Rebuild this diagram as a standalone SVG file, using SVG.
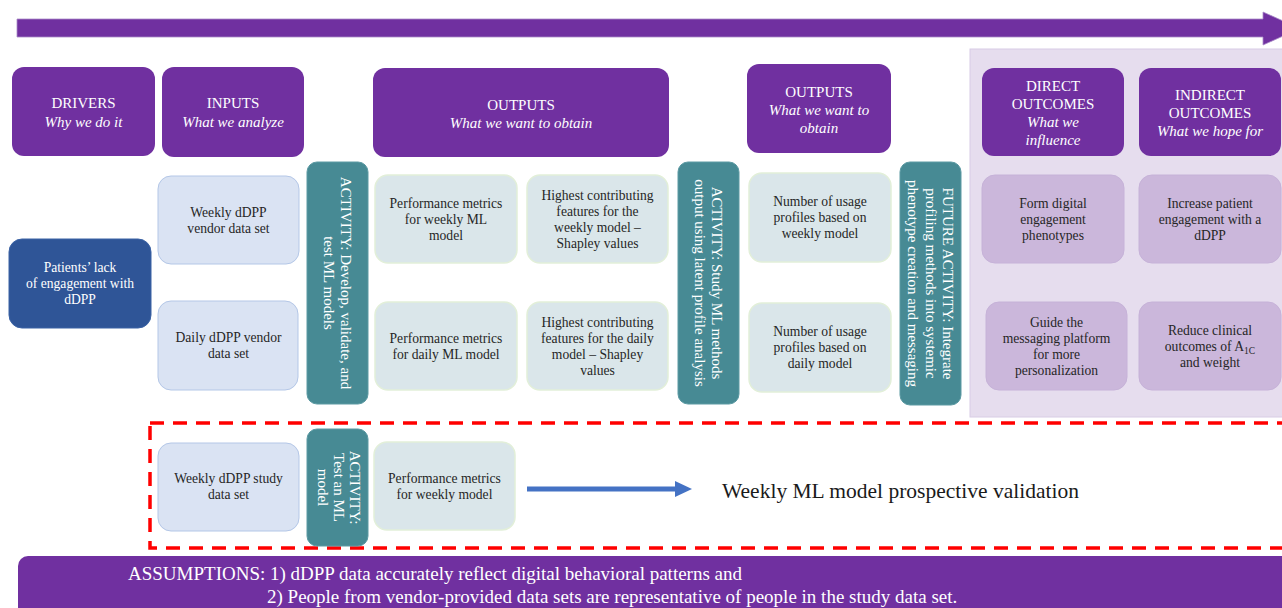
<svg xmlns="http://www.w3.org/2000/svg" width="1282" height="608" viewBox="0 0 1282 608">
<style>
text{font-family:"Liberation Serif","Times New Roman",serif;}
.hdr{fill:#7030A0;}
.ht{fill:#fff;font-size:15px;text-anchor:middle;}
.hi{font-style:italic;}
.inp{fill:#DAE3F3;stroke:#B4C7E7;stroke-width:1;}
.out{fill:#DAE6EA;stroke:#E2EFD9;stroke-width:1.5;}
.oc{fill:#CBB7DB;stroke:#C6B2D8;stroke-width:1;}
.act{fill:#478A94;stroke:#5C9AA3;stroke-width:1;}
.bt{fill:#262626;font-size:13.6px;text-anchor:middle;}
.wt{fill:#fff;font-size:13.6px;text-anchor:middle;}
.at{fill:#fff;font-size:15px;text-anchor:middle;}
</style>
<defs>
<marker id="bh" markerUnits="userSpaceOnUse" markerWidth="18" markerHeight="16" refX="0" refY="8" orient="auto">
<path d="M0,0 L17,8 L0,16 Z" fill="#4472C4"/>
</marker>
</defs>
<rect width="1282" height="608" fill="#fff"/>

<g id="connectors">
<polygon id="timeline" points="17,19 1263,19 1263,12 1300,28.5 1263,45 1263,37 17,37" fill="#7030A0" stroke="#A98AC8" stroke-width="0.8"/>
<line x1="527" y1="489" x2="675" y2="489" stroke="#4472C4" stroke-width="5" marker-end="url(#bh)"/>
</g>

<g id="outcomes-panel"><rect x="970" y="49" width="330" height="368" fill="#E6DDEE" stroke="#D8CCE5" stroke-width="1"/></g>

<g id="hdr-drivers"><rect class="hdr" x="12" y="67" width="143" height="89" rx="12"/>
<text class="ht" x="83.5" y="108">DRIVERS</text><text class="ht hi" x="83.5" y="127">Why we do it</text></g>
<g id="hdr-inputs"><rect class="hdr" x="162" y="67" width="142" height="90" rx="12"/>
<text class="ht" x="233" y="108">INPUTS</text><text class="ht hi" x="233" y="127">What we analyze</text></g>
<g id="hdr-outputs1"><rect class="hdr" x="373" y="68" width="296" height="89" rx="12"/>
<text class="ht" x="521" y="110">OUTPUTS</text><text class="ht hi" x="521" y="128">What we want to obtain</text></g>
<g id="hdr-outputs2"><rect class="hdr" x="747" y="64" width="144" height="89" rx="12"/>
<text class="ht" x="819" y="97">OUTPUTS</text><text class="ht hi" x="819" y="115">What we want to</text><text class="ht hi" x="819" y="133">obtain</text></g>
<g id="hdr-direct"><rect class="hdr" x="982" y="68" width="142" height="88" rx="12"/>
<text class="ht" x="1053" y="91">DIRECT</text><text class="ht" x="1053" y="109">OUTCOMES</text><text class="ht hi" x="1053" y="127">What we</text><text class="ht hi" x="1053" y="145">influence</text></g>
<g id="hdr-indirect"><rect class="hdr" x="1139" y="68" width="142" height="88" rx="12"/>
<text class="ht" x="1210" y="100">INDIRECT</text><text class="ht" x="1210" y="118">OUTCOMES</text><text class="ht hi" x="1210" y="136">What we hope for</text></g>

<g id="driver"><rect x="9" y="239" width="142" height="89" rx="13" fill="#2F5597" stroke="#3A62A5" stroke-width="1"/>
<text class="wt" x="80" y="272">Patients’ lack</text><text class="wt" x="80" y="288">of engagement with</text><text class="wt" x="80" y="304">dDPP</text></g>

<g id="in-weekly-vendor"><rect class="inp" x="158" y="176" width="141" height="88" rx="13"/>
<text class="bt" x="228.5" y="216.5">Weekly dDPP</text><text class="bt" x="228.5" y="232.5">vendor data set</text></g>
<g id="in-daily-vendor"><rect class="inp" x="158" y="301" width="140" height="89" rx="13"/>
<text class="bt" x="228.5" y="342">Daily dDPP vendor</text><text class="bt" x="228.5" y="358">data set</text></g>

<g id="act-develop"><rect class="act" x="307" y="162" width="61" height="242" rx="10"/>
<g transform="translate(337.5,283) rotate(90)"><text class="at" x="0" y="-3.5">ACTIVITY: Develop, validate, and</text><text class="at" x="0" y="13.5">test ML models</text></g></g>

<g id="out-perf-weekly"><rect class="out" x="375" y="175" width="142" height="88" rx="13"/>
<text class="bt" x="446" y="207.5">Performance metrics</text><text class="bt" x="446" y="223.5">for weekly ML</text><text class="bt" x="446" y="239.5">model</text></g>
<g id="out-shap-weekly"><rect class="out" x="527" y="175" width="141" height="88" rx="13"/>
<text class="bt" x="597.5" y="199.5">Highest contributing</text><text class="bt" x="597.5" y="215.5">features for the</text><text class="bt" x="597.5" y="231.5">weekly model –</text><text class="bt" x="597.5" y="247.5">Shapley values</text></g>
<g id="out-perf-daily"><rect class="out" x="375" y="302" width="142" height="88" rx="13"/>
<text class="bt" x="446" y="342.5">Performance metrics</text><text class="bt" x="446" y="358.5">for daily ML model</text></g>
<g id="out-shap-daily"><rect class="out" x="527" y="302" width="141" height="88" rx="13"/>
<text class="bt" x="597.5" y="326.5">Highest contributing</text><text class="bt" x="597.5" y="342.5">features for the daily</text><text class="bt" x="597.5" y="358.5">model – Shapley</text><text class="bt" x="597.5" y="374.5">values</text></g>

<g id="act-study"><rect class="act" x="678" y="162" width="61" height="242" rx="10"/>
<g transform="translate(708.5,283) rotate(90)"><text class="at" x="0" y="-3.5">ACTIVITY: Study ML methods</text><text class="at" x="0" y="13.5">output using latent profile analysis</text></g></g>

<g id="out-usage-weekly"><rect class="out" x="749" y="173" width="142" height="89" rx="13"/>
<text class="bt" x="820" y="206">Number of usage</text><text class="bt" x="820" y="222">profiles based on</text><text class="bt" x="820" y="238">weekly model</text></g>
<g id="out-usage-daily"><rect class="out" x="749" y="303" width="142" height="89" rx="13"/>
<text class="bt" x="820" y="336">Number of usage</text><text class="bt" x="820" y="352">profiles based on</text><text class="bt" x="820" y="368">daily model</text></g>

<g id="act-future"><rect class="act" x="900" y="162" width="61" height="243" rx="10"/>
<g transform="translate(930.5,283.5) rotate(90)"><text class="at" x="0" y="-12.5">FUTURE ACTIVITY: Integrate</text><text class="at" x="0" y="5">profiling methods into systemic</text><text class="at" x="0" y="22.5">phenotype  creation and messaging</text></g></g>

<g id="oc-form"><rect class="oc" x="982" y="175" width="142" height="88" rx="13"/>
<text class="bt" x="1053" y="207.5">Form digital</text><text class="bt" x="1053" y="223.5">engagement</text><text class="bt" x="1053" y="239.5">phenotypes</text></g>
<g id="oc-increase"><rect class="oc" x="1139" y="175" width="142" height="88" rx="13"/>
<text class="bt" x="1210" y="207.5">Increase patient</text><text class="bt" x="1210" y="223.5">engagement with a</text><text class="bt" x="1210" y="239.5">dDPP</text></g>
<g id="oc-guide"><rect class="oc" x="986" y="302" width="141" height="88" rx="13"/>
<text class="bt" x="1056.5" y="326.5">Guide the</text><text class="bt" x="1056.5" y="342.5">messaging platform</text><text class="bt" x="1056.5" y="358.5">for more</text><text class="bt" x="1056.5" y="374.5">personalization</text></g>
<g id="oc-reduce"><rect class="oc" x="1139" y="302" width="142" height="88" rx="13"/>
<text class="bt" x="1210" y="334.5">Reduce clinical</text><text class="bt" x="1210" y="350.5">outcomes of A<tspan font-size="9.5" dy="3">1C</tspan></text><text class="bt" x="1210" y="366.5">and weight</text></g>

<g id="validation-frame"><rect x="150" y="423" width="1160" height="125" fill="none" stroke="#FF0000" stroke-width="3.5" stroke-dasharray="14,9"/></g>

<g id="in-weekly-study"><rect class="inp" x="158" y="443" width="141" height="88" rx="13"/>
<text class="bt" x="228.5" y="483">Weekly dDPP study</text><text class="bt" x="228.5" y="499">data set</text></g>
<g id="act-test"><rect class="act" x="307" y="429" width="61" height="117" rx="10"/>
<g transform="translate(337.5,487.5) rotate(90)"><text class="at" x="0" y="-12.5">ACTIVITY:</text><text class="at" x="0" y="3.5">Test an ML</text><text class="at" x="0" y="19.5">model</text></g></g>
<g id="out-perf-weekly-model"><rect class="out" x="374" y="442" width="141" height="88" rx="13"/>
<text class="bt" x="444.5" y="482.5">Performance metrics</text><text class="bt" x="444.5" y="498.5">for weekly model</text></g>
<g id="validation-label"><text x="722" y="498" font-size="21.5" fill="#1a1a1a">Weekly ML model prospective validation</text></g>

<g id="assumptions"><rect x="18" y="556" width="1290" height="70" rx="10" fill="#7030A0"/>
<text x="128" y="580" font-size="19" fill="#fff">ASSUMPTIONS: 1) dDPP data accurately reflect digital behavioral patterns and</text>
<text x="267" y="603" font-size="19" fill="#fff">2) People from vendor-provided data sets are representative of people in the study data set.</text></g>
</svg>
